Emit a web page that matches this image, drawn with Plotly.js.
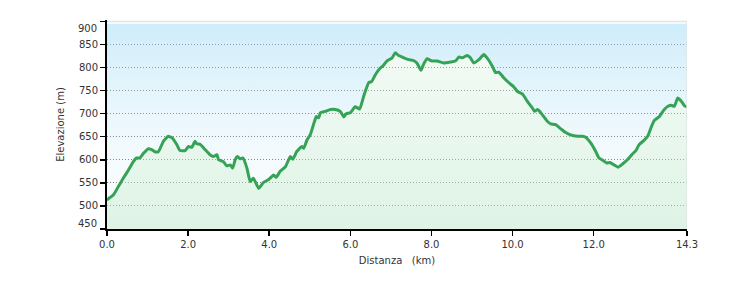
<!DOCTYPE html>
<html>
<head>
<meta charset="utf-8">
<script src="https://cdn.plot.ly/plotly-3.0.1.min.js"></script>
<style>html,body{margin:0;padding:0;background:#fff;}#chart{width:736px;height:286px;}</style>
</head>
<body>
<div id="chart"></div>
<script>
const distanceKm = [0.00,0.16,0.28,0.40,0.53,0.65,0.73,0.81,0.90,1.02,1.10,1.19,1.27,1.39,1.51,1.60,1.72,1.80,1.93,2.01,2.09,2.17,2.21,2.30,2.42,2.54,2.62,2.71,2.75,2.87,2.95,3.04,3.10,3.16,3.22,3.28,3.35,3.45,3.53,3.61,3.74,3.86,3.98,4.11,4.17,4.27,4.40,4.52,4.58,4.68,4.80,4.85,4.93,5.01,5.09,5.16,5.22,5.26,5.38,5.51,5.63,5.75,5.84,5.90,6.00,6.12,6.23,6.33,6.45,6.53,6.62,6.74,6.80,6.90,7.03,7.11,7.19,7.32,7.44,7.56,7.64,7.74,7.81,7.89,8.01,8.14,8.30,8.47,8.59,8.68,8.76,8.88,8.96,9.04,9.17,9.29,9.37,9.50,9.58,9.66,9.78,9.91,10.03,10.12,10.24,10.36,10.49,10.54,10.62,10.73,10.86,10.94,11.06,11.19,11.31,11.43,11.60,11.72,11.80,11.93,12.05,12.13,12.24,12.32,12.40,12.50,12.60,12.71,12.83,12.96,13.04,13.12,13.24,13.33,13.41,13.49,13.62,13.74,13.83,13.91,13.99,14.07,14.16,14.24,14.30];
const elevationM = [513,524,542,560,578,596,604,604,614,624,622,617,618,640,651,648,633,620,620,629,627,640,635,633,622,611,607,611,600,596,587,589,582,600,607,602,604,582,553,560,538,551,557,567,562,575,585,607,601,618,629,625,643,654,676,694,691,702,705,709,709,705,693,700,702,715,710,738,767,770,785,799,803,814,821,832,826,821,817,815,810,794,808,819,814,814,810,812,814,823,821,826,821,810,817,828,821,803,789,790,778,767,758,748,743,727,712,705,709,698,683,678,676,667,659,654,651,651,649,636,618,604,598,593,594,589,584,591,600,613,620,633,642,651,669,685,694,709,716,718,716,734,727,717,715];

const xTickVals = [0, 2, 4, 6, 8, 10, 12, 14.3];
const xTickText = ['0.0', '2.0', '4.0', '6.0', '8.0', '10.0', '12.0', '14.3'];
const yTickVals = [450, 500, 550, 600, 650, 700, 750, 800, 850, 900];
const yTickText = ['', '500', '550', '600', '650', '700', '750', '800', '850', ''];
const yEdgeLabels = [900, 450];

const xMax = 14.3, yMin = 450, yTop = 900, bgTop = 895;
const fontFam = 'DejaVu Sans, Verdana, sans-serif';

const traces = [
  {x: [0, xMax], y: [yMin, yMin], mode: 'lines', line: {width: 0}, hoverinfo: 'skip', showlegend: false},
  {x: distanceKm, y: elevationM, mode: 'lines', fill: 'tonexty', line: {width: 0},
   fillgradient: {type: 'vertical', start: yMin, stop: 840,
     colorscale: [[0, 'rgba(180,228,196,0.52)'], [1, 'rgba(205,238,215,0.30)']]},
   hoverinfo: 'skip', showlegend: false},
  {x: [0, xMax], y: [yMin, yMin], mode: 'lines', line: {width: 0}, hoverinfo: 'skip', showlegend: false},
  {x: distanceKm, y: elevationM, mode: 'lines', fill: 'tonexty', line: {width: 0}, fillcolor: 'rgba(0,0,0,0)',
   fillpattern: {shape: '|', size: 2, solidity: 0.4, fgcolor: 'rgba(255,255,255,0.35)', bgcolor: 'rgba(0,0,0,0)'},
   hoverinfo: 'skip', showlegend: false},
  {x: [0, xMax], y: [bgTop, bgTop], mode: 'lines', fill: 'tonexty', line: {width: 0},
   fillgradient: {type: 'vertical', start: 560, stop: bgTop,
     colorscale: [[0, 'rgba(215,238,248,0.20)'], [1, 'rgba(168,222,246,0.56)']]},
   hoverinfo: 'skip', showlegend: false},
  {x: distanceKm, y: elevationM, mode: 'lines', line: {color: '#34a355', width: 3, shape: 'spline', smoothing: 0.4},
   showlegend: false}
];

const layout = {
  width: 736, height: 286,
  margin: {l: 107, r: 49, t: 20, b: 57},
  paper_bgcolor: '#ffffff', plot_bgcolor: '#ffffff',
  font: {family: fontFam, size: 10, color: '#333333'},
  xaxis: {
    range: [0, xMax], tickvals: xTickVals, ticktext: xTickText,
    showgrid: false, zeroline: false,
    showline: true, linecolor: '#000', linewidth: 2,
    ticks: 'outside', ticklen: 5, tickwidth: 1.5, tickcolor: '#000',
    tickfont: {family: fontFam, size: 10, color: '#333'},
    title: {text: 'Distanza\u00a0\u00a0\u00a0(km)', font: {family: fontFam, size: 10, color: '#333'}, standoff: 8}
  },
  yaxis: {
    range: [yMin, 903], tickvals: yTickVals, ticktext: yTickText,
    showgrid: true, gridcolor: '#666666', griddash: '1px,2px', gridwidth: 1,
    zeroline: false,
    showline: true, linecolor: '#000', linewidth: 2,
    ticks: 'outside', ticklen: 5, tickwidth: 1.5, tickcolor: '#000',
    tickfont: {family: fontFam, size: 10, color: '#333'},
    title: {text: 'Elevazione (m)', font: {family: fontFam, size: 10, color: '#333'}, standoff: 12}
  },
  shapes: [
    {type: 'line', xref: 'x', yref: 'y', x0: 0, x1: xMax, y0: yTop, y1: yTop, line: {color: '#dfe4e6', width: 1.5}, layer: 'above'},
    {type: 'line', xref: 'x', yref: 'y', x0: xMax, x1: xMax, y0: yMin, y1: yTop, line: {color: '#dfe4e6', width: 1.5}, layer: 'above'}
  ],
  annotations: yEdgeLabels.map((v, i) => ({
    x: 0, xref: 'paper', y: v, yref: 'y', text: String(v), showarrow: false,
    xanchor: 'right', yanchor: 'middle', xshift: -8, yshift: i === 0 ? -7 : 6,
    font: {family: fontFam, size: 10, color: '#333'}
  }))
};

Plotly.newPlot('chart', traces, layout, {staticPlot: true, displayModeBar: false});
</script>
</body>
</html>
